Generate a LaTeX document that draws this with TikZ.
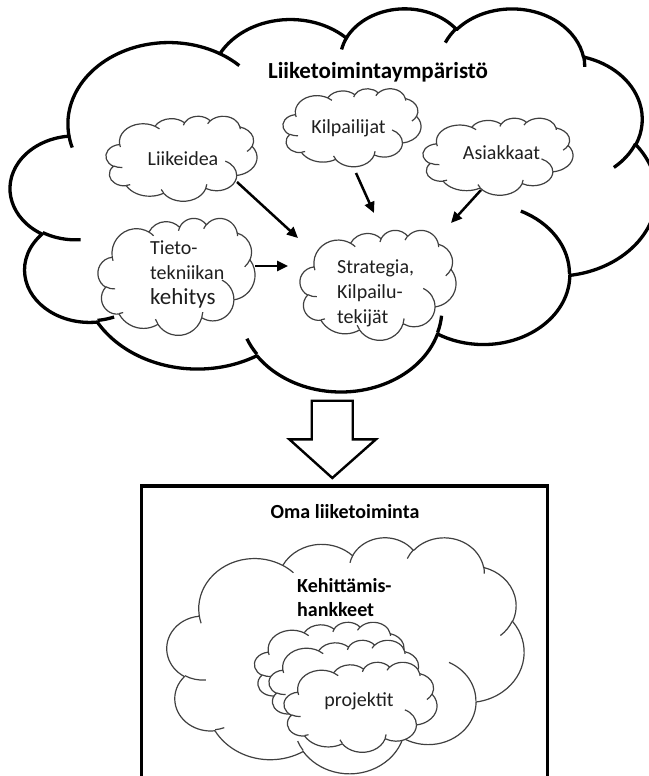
\documentclass[tikz,border=0pt]{standalone}
\usepackage{fontspec}
\setmainfont{Carlito}
\usetikzlibrary{arrows.meta}

\tikzset{
  carc/.style n args={4}{insert path={arc[x radius=#1, y radius=#2,
      start angle={atan2(#1*sin(#3),#2*cos(#3))},
      delta angle={Mod(atan2(#1*sin(#3+#4),#2*cos(#3+#4))-atan2(#1*sin(#3),#2*cos(#3)),360)}]}},
  pics/ocloud/.style 2 args={code={
    \begin{scope}[xscale=#1/432, yscale=#2/432, shift={(-216,-216)}]
      \path[draw, fill=white, line join=round] (39.00,143.70)
        [carc={67.53}{91.90}{-190.4875}{123.7805}]
        [carc={53.33}{72.67}{-144.1024}{89.9452}]
        [carc={43.65}{59.45}{-145.8079}{99.7230}]
        [carc={48.57}{65.95}{-130.9861}{117.2417}]
        [carc={53.33}{72.73}{-78.7089}{109.0269}]
        [carc={67.75}{92.20}{-46.2673}{130.2690}]
        [carc={57.85}{78.67}{0.6250}{114.0333}]
        [carc={67.52}{92.15}{22.4516}{115.1726}]
        [carc={77.20}{105.43}{66.2426}{75.7110}]
        [carc={43.60}{59.18}{-274.9421}{146.7356}]
        [carc={43.45}{59.45}{-246.8285}{152.5189}] -- cycle;
      \path[draw]
        (46.93,261.77) [carc={43.45}{59.45}{86.7420}{26.4295}]
        (69.28,348.99) [carc={43.60}{59.18}{73.6105}{11.4475}]
        (164.78,390.90) [carc={67.52}{92.15}{137.6242}{14.0811}]
        (288.27,347.51) [carc={67.52}{92.15}{6.4533}{15.9984}]
        (341.29,229.54) [carc={57.85}{78.67}{-70.2924}{70.9174}]
        (417.98,153.54) [carc={53.33}{72.73}{30.3180}{27.7515}]
        (383.24,54.26) [carc={48.57}{65.95}{-13.7443}{14.8589}]
        (290.78,39.52) [carc={48.57}{65.95}{-149.1815}{18.1954}]
        (221.41,47.20) [carc={43.65}{59.45}{-163.4943}{17.6864}]
        (140.00,51.92) [carc={67.53}{91.90}{-66.7070}{12.3194}]
        (41.27,157.89) [carc={67.53}{91.90}{157.6544}{11.8582}];
    \end{scope}}},
  bigcloud/.style={color=black, line width=3.3pt},
  smallcloud/.style={color=black!75, line width=1.2pt},
  cloudtxt/.style={inner sep=0pt, text=black!88, font=\fontsize{20}{25}\selectfont},
  boldtxt/.style={inner sep=0pt, text=black, font=\bfseries\fontsize{20}{24}\selectfont},
  conn/.style={line width=2.5pt, -{Triangle[length=11pt, width=10pt]}}
}

\begin{document}
\begin{tikzpicture}[x=1pt, y=-1pt]
  \useasboundingbox (0,0) rectangle (648,776);

  % ympäristö
  \pic[bigcloud] at (333.5,199.1) {ocloud={646}{383}};
  \pic[smallcloud] at (181.5,158.5) {ocloud={151}{85}};
  \pic[smallcloud] at (352,127.5) {ocloud={138}{78}};
  \pic[smallcloud] at (498,156.5) {ocloud={150}{77}};
  \pic[smallcloud] at (176.5,276.5) {ocloud={157}{117}};
  \pic[smallcloud] at (378,285) {ocloud={156}{110}};

  \node[boldtxt, font=\bfseries\fontsize{23}{28}\selectfont, anchor=base] (otsikko) at (378,78.3) {Liiketoimintaympäristö};
  \node[cloudtxt, anchor=base] (liikeidea) at (183,165) {Liikeidea};
  \node[cloudtxt, anchor=base] (kilpailijat) at (348.5,133) {Kilpailijat};
  \node[cloudtxt, anchor=base] (asiakkaat) at (501.5,159.3) {Asiakkaat};
  \node[cloudtxt, anchor=base west, text width=95pt, align=left] (tieto) at (150,254)
    {Tieto-\\tekniikan\\{\fontsize{23}{25}\selectfont kehitys}};
  \node[cloudtxt, anchor=base west, text width=95pt, align=left] (strategia) at (337,273.3)
    {Strategia,\\Kilpailu-\\tekijät};

  \draw[conn] ([shift={(54,17)}]liikeidea.base) -- ([shift={(-39,-35.3)}]strategia.base west);
  \draw[conn] ([shift={(7.5,40)}]kilpailijat.base) -- ([shift={(37,-60.3)}]strategia.base west);
  \draw[conn] ([shift={(-20.5,30.7)}]asiakkaat.base) -- ([shift={(114,-50.3)}]strategia.base west);
  \draw[conn] ([shift={(105,12)}]tieto.base west) -- ([shift={(-49,-7.3)}]strategia.base west);

  % iso nuoli
  \draw[line width=2.4pt, line join=miter] (311.7,400.7) -- (352.7,400.7) -- (352.7,439.3)
    -- (376,439.3) -- (332.3,478) -- (289.3,439.3) -- (311.7,439.3) -- cycle;

  % oma liiketoiminta
  \node[draw, line width=3.3pt, minimum width=405.7pt, minimum height=330pt,
    inner sep=0pt, anchor=north west] (omabox) at (140,484.3) {};
  \node[boldtxt, anchor=base] (oma) at (345,518.3) {Oma liiketoiminta};

  \pic[smallcloud] at (345.5,655) {ocloud={357}{236}};
  \pic[smallcloud] at (331,667) {ocloud={153}{90}};
  \pic[smallcloud] at (345.5,685) {ocloud={153}{90}};
  \pic[smallcloud] at (360.5,707) {ocloud={153}{90}};

  \node[boldtxt, anchor=base west, text width=110pt, align=left] (kehittamis) at (297,592)
    {Kehittämis-\\hankkeet};
  \node[cloudtxt, anchor=base] (projektit) at (359,706.7) {projektit};
\end{tikzpicture}
\end{document}
